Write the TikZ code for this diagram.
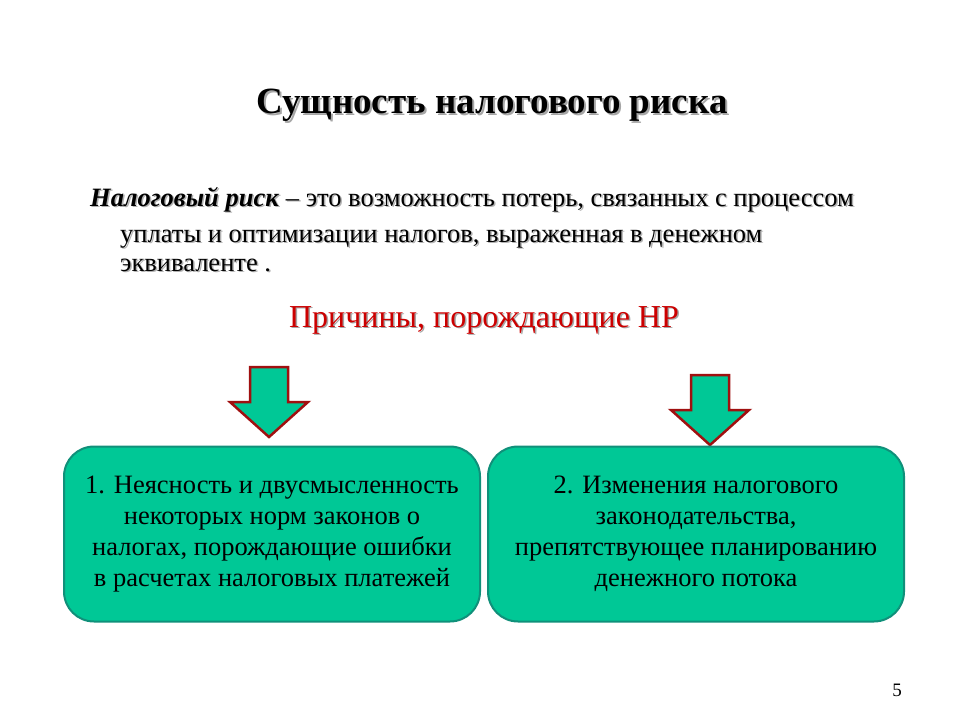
\documentclass[tikz,border=0pt]{standalone}
\usepackage{fontspec}
\setmainfont{Liberation Serif}
\definecolor{boxg}{HTML}{00C896}
\definecolor{boxd}{HTML}{10907A}
\definecolor{arrred}{HTML}{A01010}
\definecolor{redt}{HTML}{CC0000}
\tikzset{
 sh/.style={text=black!35},
 deftext/.style={anchor=base west,font=\fontsize{26.5}{30}\selectfont,inner sep=0},
 box/.style={draw=boxd,line width=2pt,fill=boxg,rounded corners=30pt,minimum width=416pt,minimum height=175pt,align=center,font=\fontsize{26.5}{31}\selectfont},
 arr/.style={draw=arrred,line width=2.5pt,fill=boxg,line join=miter}
}
\begin{document}
\begin{tikzpicture}[x=1pt,y=-1pt]
\useasboundingbox (0,0) rectangle (960,720);
% title
\node[sh,font=\bfseries\fontsize{37}{42}\selectfont] at (494,107) {Сущность налогового риска};
\node[font=\bfseries\fontsize{37}{42}\selectfont] (title) at (492,105) {Сущность налогового риска};
% definition
\foreach \dx/\c in {1.5/black!30,0/black}{
\node[deftext,text=\c] at (90+\dx,206+\dx) {\textbf{\textit{Налоговый риск}} – это возможность потерь, связанных с процессом};
\node[deftext,text=\c] at (120+\dx,242+\dx) {уплаты и оптимизации налогов, выраженная в денежном};
\node[deftext,text=\c] at (120+\dx,271+\dx) {эквиваленте .};
}
\node[sh,font=\fontsize{32}{36}\selectfont] at (485.5,321.5) {Причины, порождающие НР};
\node[text=redt,font=\fontsize{32}{36}\selectfont] (why) at (484,320) {Причины, порождающие НР};
% arrows
\draw[arr] (250,367) -- (288,367) -- (288,402) -- (308,402) -- (269,437) -- (230,402) -- (250,402) -- cycle;
\draw[arr] (691,375) -- (729,375) -- (729,410) -- (749,410) -- (710,445) -- (671,410) -- (691,410) -- cycle;
% boxes
\node[box] (b1) at (272,534) {1. Неясность и двусмысленность\\некоторых норм законов о\\налогах, порождающие ошибки\\в расчетах налоговых платежей};
\node[box] (b2) at (696,534) {2. Изменения налогового\\законодательства,\\препятствующее планированию\\денежного потока};
\node[font=\fontsize{19}{22}\selectfont] (num) at (897,690) {5};
\end{tikzpicture}
\end{document}
